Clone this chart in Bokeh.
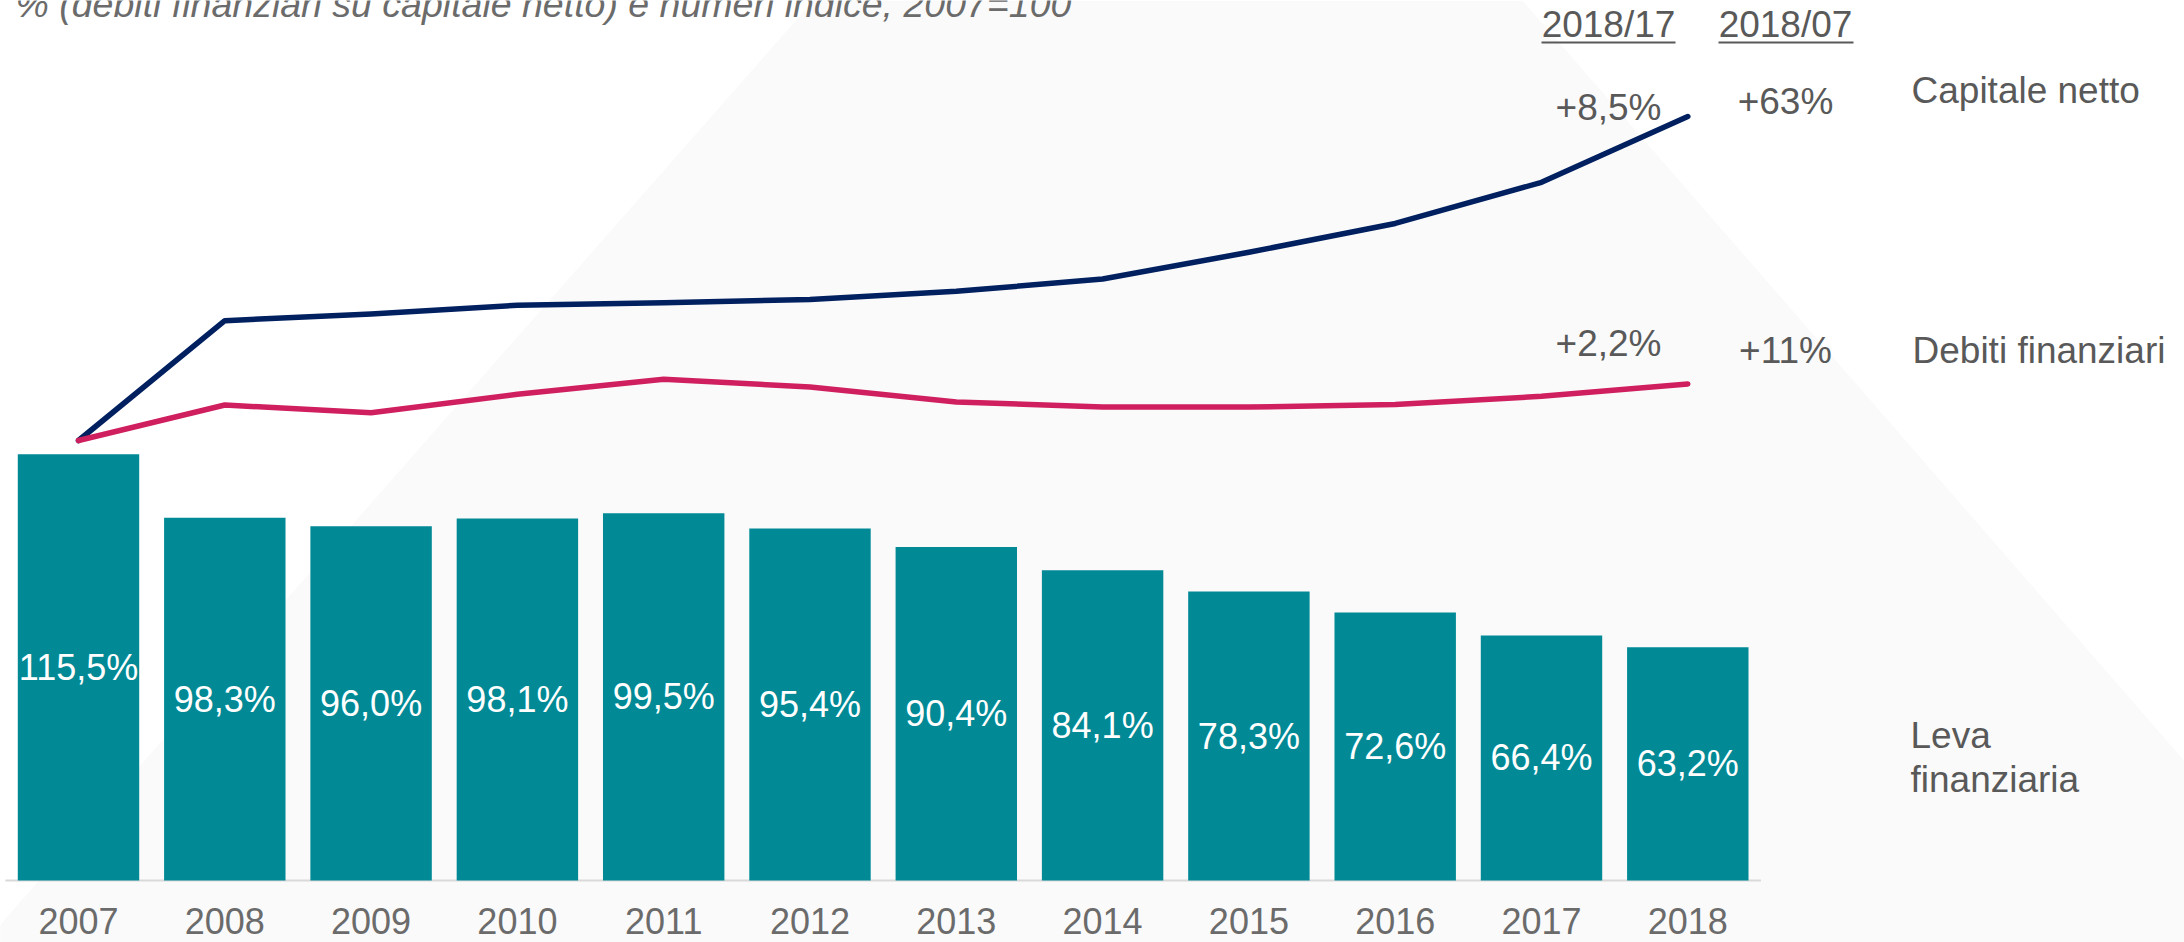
from bokeh.plotting import figure
from bokeh.models import Range1d, Label, PolyAnnotation, BoxAnnotation, ColumnDataSource
from bokeh.core.properties import value
from bokeh.embed import file_html
from bokeh.resources import INLINE

# ---------------- data ----------------
years = [2007, 2008, 2009, 2010, 2011, 2012, 2013, 2014, 2015, 2016, 2017, 2018]
leva = [115.5, 98.3, 96.0, 98.1, 99.5, 95.4, 90.4, 84.1, 78.3, 72.6, 66.4, 63.2]
capitale = [100, 123.3, 124.6, 126.3, 126.8, 127.4, 129.0, 131.4, 136.6, 142.2, 150.2, 163.0]
debiti = [100, 106.9, 105.4, 109.0, 111.9, 110.4, 107.5, 106.5, 106.5, 107.0, 108.6, 111.0]

series_names = ["Capitale netto", "Debiti finanziari"]
period_headers = ["2018/17", "2018/07"]
change_1817 = ["+8,5%", "+2,2%"]
change_1807 = ["+63%", "+11%"]
bar_name = ["Leva", "finanziaria"]
subtitle = "% (debiti finanziari su capitale  netto) e numeri indice, 2007=100"

# ---------------- styles ----------------
FONT = "Liberation Sans"
TEAL = "#018A96"
NAVY = "#002060"
CRIMSON = "#D01F5E"
GRAY_TXT = "#595959"
LIGHT_TXT = "#6B6B6B"

W, H = 2184, 942
PX_PER_YEAR = 146.3
X0_PX = 78.0           # canvas x of first year
BASE_PX = 880.0        # canvas y of bar baseline
BAR_SCALE = 3.69       # px per leva unit
IDX_SCALE = 5.143      # px per index unit
IDX100_PX = 440.0      # canvas y of index 100

x_start = years[0] - X0_PX / PX_PER_YEAR
x_end = x_start + W / PX_PER_YEAR
bar_start = -(H - BASE_PX) / BAR_SCALE
bar_end = BASE_PX / BAR_SCALE
idx_start = 100 - (H - IDX100_PX) / IDX_SCALE
idx_end = 100 + IDX100_PX / IDX_SCALE

p = figure(width=W, height=H, output_backend="svg", toolbar_location=None,
           x_range=Range1d(x_start, x_end), y_range=Range1d(bar_start, bar_end),
           x_axis_location=None, y_axis_location=None,
           min_border_left=0, min_border_right=0, min_border_top=0, min_border_bottom=0)
p.extra_y_ranges = {"idx": Range1d(idx_start, idx_end)}
p.outline_line_color = None
p.grid.visible = False
p.background_fill_color = "white"
p.border_fill_color = "white"

# background trapezoid decoration
p.add_layout(PolyAnnotation(xs=[813, 1522, 2342, -16], ys=[0, 0, 942, 942],
                            xs_units="canvas", ys_units="canvas",
                            fill_color="#FAFAFA", fill_alpha=1.0, line_color=None,
                            level="underlay"))

# baseline
p.segment(x0=[years[0] - 0.5], y0=[0], x1=[years[-1] + 0.5], y1=[0],
          line_color="#D9D9D9", line_width=2)

# bars
bar_src = ColumnDataSource(dict(
    x=years, top=leva, mid=[v / 2 for v in leva],
    lab=[("%.1f" % v).replace(".", ",") + "%" for v in leva],
    yl=[str(y) for y in years], zero=[0] * len(years)))
p.vbar(x="x", top="top", bottom=0, width=0.83, source=bar_src,
       fill_color=TEAL, line_color=None)
p.text(x="x", y="mid", text="lab", source=bar_src, text_align="center",
       text_baseline="middle", text_font_size="36px", text_color="white",
       text_font=value(FONT))
p.text(x="x", y="zero", text="yl", source=bar_src, text_align="center",
       text_baseline="middle", y_offset=40, text_font_size="36px",
       text_color=LIGHT_TXT, text_font=value(FONT))

# lines
p.line(years, capitale, y_range_name="idx", line_color=NAVY, line_width=5.5,
       line_join="round", line_cap="round")
p.line(years, debiti, y_range_name="idx", line_color=CRIMSON, line_width=5.5,
       line_join="round", line_cap="round")

def lab(text, x, y, align="center", baseline="middle", color=GRAY_TXT,
        style="normal", size="37px"):
    p.add_layout(Label(x=x, y=y, x_units="canvas", y_units="canvas", text=text,
                       text_align=align, text_baseline=baseline,
                       text_font=FONT, text_font_size=size, text_color=color,
                       text_font_style=style))

# subtitle (clipped at top like the reference)
lab(subtitle, 15, 3, align="left", style="italic", color=LIGHT_TXT, size="37.5px")

# column headers with underline
col_x = [1608, 1785]
for hdr, cx, (l, r) in zip(period_headers, col_x, [(1541, 1675), (1718, 1853)]):
    lab(hdr, cx, 24)
    p.add_layout(BoxAnnotation(left=l, right=r, top=41, bottom=43,
                               left_units="canvas", right_units="canvas",
                               top_units="canvas", bottom_units="canvas",
                               fill_color=GRAY_TXT, fill_alpha=1.0, line_color=None))

# changes and series names
lab(change_1817[0], col_x[0], 107)
lab(change_1807[0], col_x[1], 101)
lab(series_names[0], 1911, 90, align="left")
lab(change_1817[1], col_x[0], 343)
lab(change_1807[1], col_x[1], 350)
lab(series_names[1], 1912, 350, align="left")
lab(bar_name[0], 1910, 735, align="left")
lab(bar_name[1], 1910, 779, align="left")

open("out.html", "w").write(file_html(p, INLINE))
